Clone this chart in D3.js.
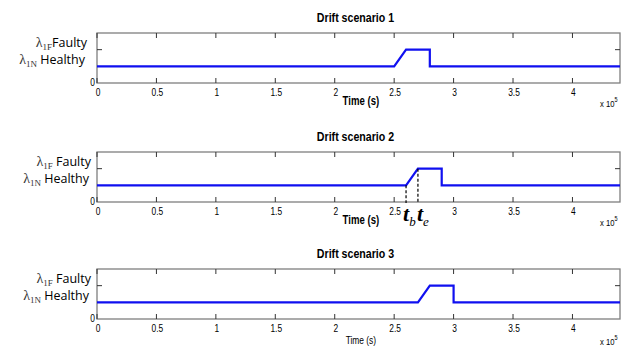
<!DOCTYPE html>
<html>
<head>
<meta charset="utf-8">
<script src="https://cdn.jsdelivr.net/npm/d3@7"></script>
<style>
body { margin: 0; background: #fff; }
text { fill: #000; }
</style>
</head>
<body>
<div id="chart"></div>
<script>
var svgWidth = 635;
var svgHeight = 353;

// data (time in s, level: 1 = healthy, 2 = faulty)
var titles = ["Drift scenario 1", "Drift scenario 2", "Drift scenario 3"];
var times1 = [0, 250000, 260000, 280000, 280000, 440000];
var times2 = [0, 260000, 270000, 290000, 290000, 440000];
var times3 = [0, 270000, 280000, 300000, 300000, 440000];
var levels = [1, 1, 2, 2, 1, 1];
var xTicks = [0, 50000, 100000, 150000, 200000, 250000, 300000, 350000, 400000];
var xTickLabels = ["0", "0.5", "1", "1.5", "2", "2.5", "3", "3.5", "4"];
var markers = [260000, 270000]; // t_b, t_e in scenario 2

var seriesTimes = [times1, times2, times3];

var margin = { left: 97, right: 15 };
var panelTops = [33, 152, 269];
var panelHeight = 50;
var width = svgWidth - margin.left - margin.right;

var svg = d3.select("#chart")
    .append("svg")
    .attr("width", svgWidth)
    .attr("height", svgHeight);

var xScale = d3.scaleLinear()
    .domain([0, 440000])
    .range([0, width]);

var yScale = d3.scaleLinear()
    .domain([0, 3])
    .range([panelHeight, 0]);

var sans = "'Liberation Sans', Arial, sans-serif";

// matlab-like narrow text: squeeze horizontally
function narrowText(parent, x, y, anchor, size, weight, squeeze) {
    return parent.append("text")
        .attr("transform", `translate(${x}, ${y}) scale(${squeeze}, 1)`)
        .attr("text-anchor", anchor)
        .style("font-family", sans)
        .style("font-size", size + "px")
        .style("font-weight", weight);
}

titles.forEach(function(title, i) {
    var g = svg.append("g")
        .attr("transform", `translate(${margin.left}, ${panelTops[i]})`);

    // title
    narrowText(g, width / 2 - 3, -11, "middle", 12.5, "bold", 0.85).text(title);

    // box
    g.append("rect")
        .attr("width", width)
        .attr("height", panelHeight)
        .attr("fill", "none")
        .attr("stroke", "#7f7f7f")
        .attr("stroke-width", 1.3);

    // x ticks, inside, top and bottom
    var tickG = g.append("g").attr("stroke", "#333").attr("stroke-width", 1);
    xTicks.forEach(function(t) {
        tickG.append("line")
            .attr("x1", xScale(t)).attr("x2", xScale(t))
            .attr("y1", panelHeight).attr("y2", panelHeight - 5);
        tickG.append("line")
            .attr("x1", xScale(t)).attr("x2", xScale(t))
            .attr("y1", 0).attr("y2", 5);
    });
    // y tick at faulty level, both sides
    tickG.append("line")
        .attr("x1", 0).attr("x2", 5)
        .attr("y1", yScale(2)).attr("y2", yScale(2));
    tickG.append("line")
        .attr("x1", width).attr("x2", width - 5)
        .attr("y1", yScale(2)).attr("y2", yScale(2));

    // x tick labels
    xTicks.forEach(function(t, j) {
        narrowText(g, xScale(t) + 1, panelHeight + 13, "middle", 10.5, "normal", 0.8).text(xTickLabels[j]);
    });

    // y "0" label
    narrowText(g, -2, panelHeight + 3, "end", 10.5, "normal", 0.8).text("0");

    // y level labels
    var labelRight = i === 0 ? -10 : -6;
    var faulty = g.append("text")
        .attr("x", labelRight)
        .attr("y", yScale(2) - 3)
        .attr("text-anchor", "end")
        .style("font-size", "12.5px");
    faulty.append("tspan").style("font-family", "'Liberation Serif', serif").style("font-size", "14px").style("fill", "#333").text("\u03bb");
    faulty.append("tspan").style("font-family", "'Liberation Serif', serif").style("font-size", "9px").style("fill", "#333").attr("dy", 3).text("1F");
    faulty.append("tspan").style("font-family", "'Open Sans', 'Noto Sans', sans-serif").attr("dy", -3).text(i === 0 ? "Faulty" : " Faulty");

    var healthy = g.append("text")
        .attr("x", labelRight - 2)
        .attr("y", yScale(1) - 2)
        .attr("text-anchor", "end")
        .style("font-size", "12.5px");
    healthy.append("tspan").style("font-family", "'Liberation Serif', serif").style("font-size", "14px").style("fill", "#333").text("\u03bb");
    healthy.append("tspan").style("font-family", "'Liberation Serif', serif").style("font-size", "9px").style("fill", "#333").attr("dy", 3).text("1N");
    healthy.append("tspan").style("font-family", "'Open Sans', 'Noto Sans', sans-serif").attr("dy", -3).text(" Healthy");

    // x axis label
    if (i === 2) {
        narrowText(g, xScale(222000), panelHeight + 25, "middle", 10.5, "normal", 0.8).text("Time (s)");
    } else {
        narrowText(g, xScale(222000), panelHeight + 22, "middle", 12, "bold", 0.8).text("Time (s)");
    }

    // exponent
    var ex = narrowText(g, width - 20, panelHeight + (i === 2 ? 26 : 24), "start", 9, "normal", 0.85);
    ex.append("tspan").text("x  10");
    ex.append("tspan").attr("dy", -5).style("font-size", "6.5px").text("5");

    // signal line
    var times = seriesTimes[i];
    var line = d3.line()
        .x((d, j) => xScale(times[j]))
        .y(d => yScale(d));

    g.append("path")
        .datum(levels)
        .attr("fill", "none")
        .attr("stroke", "#1010f0")
        .attr("stroke-width", 2.2)
        .attr("d", line);

    // drift start/end markers in scenario 2
    if (i === 1) {
        markers.forEach(function(m, k) {
            g.append("line")
                .attr("x1", xScale(m)).attr("x2", xScale(m))
                .attr("y1", yScale(levels[k + 1]))
                .attr("y2", panelHeight + 1)
                .attr("stroke", "#000")
                .attr("stroke-width", 1.2)
                .attr("stroke-dasharray", "3,2");
            var lbl = g.append("text")
                .attr("x", xScale(m) - (k === 0 ? 3 : 1))
                .attr("y", panelHeight + 19)
                .attr("text-anchor", "start")
                .style("font-family", "'Liberation Serif', serif")
                .style("font-style", "italic")
                .style("font-weight", "bold")
                .style("font-size", "22px");
            lbl.append("tspan").text("t");
            lbl.append("tspan").attr("dy", 5).style("font-size", "13px").style("font-weight", "normal").text(k === 0 ? "b" : "e");
        });
    }
});
</script>
</body>
</html>
